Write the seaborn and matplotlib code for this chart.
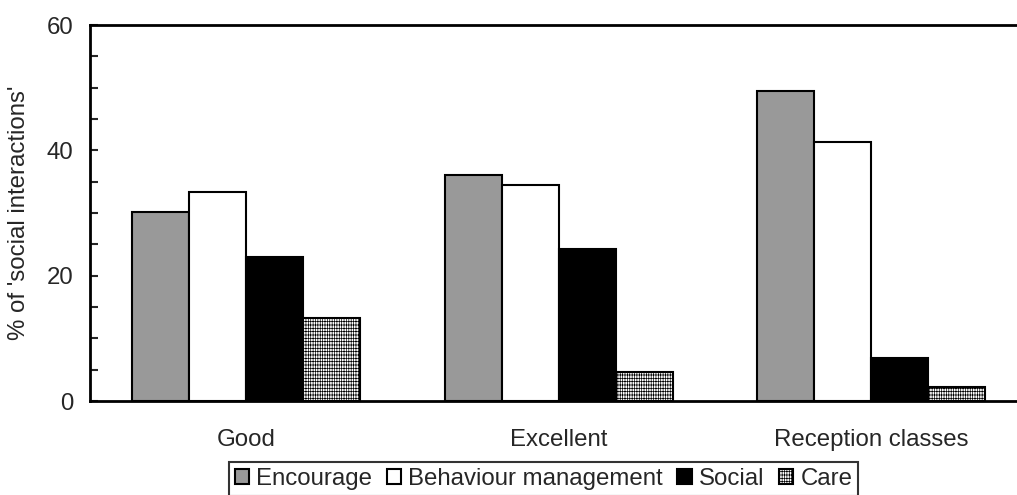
import pandas as pd
import matplotlib.pyplot as plt
import seaborn as sns
from matplotlib.ticker import MultipleLocator, FixedLocator

sns.set_style("white")
plt.rcParams['font.family'] = ['Liberation Sans', 'DejaVu Sans']
plt.rcParams['hatch.linewidth'] = 0.5

# Data
settings = ['Good', 'Excellent', 'Reception classes']
types = ['Encourage', 'Behaviour management', 'Social', 'Care']
encourage = [30.1, 36.0, 49.4]
behaviour = [33.4, 34.4, 41.4]
social = [23.0, 24.3, 6.8]
care = [13.2, 4.7, 2.3]

rows = []
for name, vals in zip(types, [encourage, behaviour, social, care]):
    for s, v in zip(settings, vals):
        rows.append({'setting': s, 'type': name, 'pct': v})
df = pd.DataFrame(rows)

colours = {'Encourage': '#999999', 'Behaviour management': 'white',
           'Social': 'black', 'Care': 'white'}
fs = 17.3

fig = plt.figure(figsize=(10.17, 4.95), dpi=100)
# axes run off the right edge, as in the reference
ax = fig.add_axes([90 / 1017, 1 - 401 / 495, 937.5 / 1017, 376 / 495])

sns.barplot(data=df, x='setting', y='pct', hue='type', order=settings,
            hue_order=types, palette=colours, width=0.73, gap=0,
            edgecolor='black', linewidth=1.5, saturation=1, legend=False, ax=ax)

for bar in ax.containers[3]:
    bar.set_hatch('-----|||||||')

ax.set_xlim(-0.5, 2.5)
ax.set_ylim(0, 60)
ax.yaxis.set_major_locator(MultipleLocator(20))
ax.yaxis.set_minor_locator(MultipleLocator(5))
ax.xaxis.set_major_locator(FixedLocator([-0.5, 0.5, 1.5, 2.5]))
ax.xaxis.set_minor_locator(FixedLocator([0, 1, 2]))
ax.set_xticklabels([])
ax.set_xticklabels(settings, minor=True)
ax.tick_params(axis='x', which='major', direction='out', length=7, width=1.5)
ax.tick_params(axis='x', which='minor', length=0, labelsize=fs, pad=20)
ax.tick_params(axis='y', which='both', direction='in', length=6, width=1.5,
               labelsize=fs, left=True)
ax.tick_params(axis='y', which='major', pad=12)

for side in ['left', 'bottom', 'top']:
    ax.spines[side].set_linewidth(2)
    ax.spines[side].set_color('black')
ax.spines['right'].set_visible(False)

ax.set_xlabel('')
ax.set_ylabel("% of 'social interactions'", fontsize=fs, labelpad=12)

fig.legend(ax.containers, types, loc='upper center', ncol=4,
           bbox_to_anchor=(543.5 / 1017, 1 - 462 / 495), fontsize=fs,
           frameon=True, fancybox=False, edgecolor='black',
           handlelength=0.6, handleheight=0.6, handletextpad=0.3,
           columnspacing=0.6, borderpad=0.25, borderaxespad=0)
fig.legends[0].get_frame().set_linewidth(1.5)

plt.savefig('out.png', dpi=100)
